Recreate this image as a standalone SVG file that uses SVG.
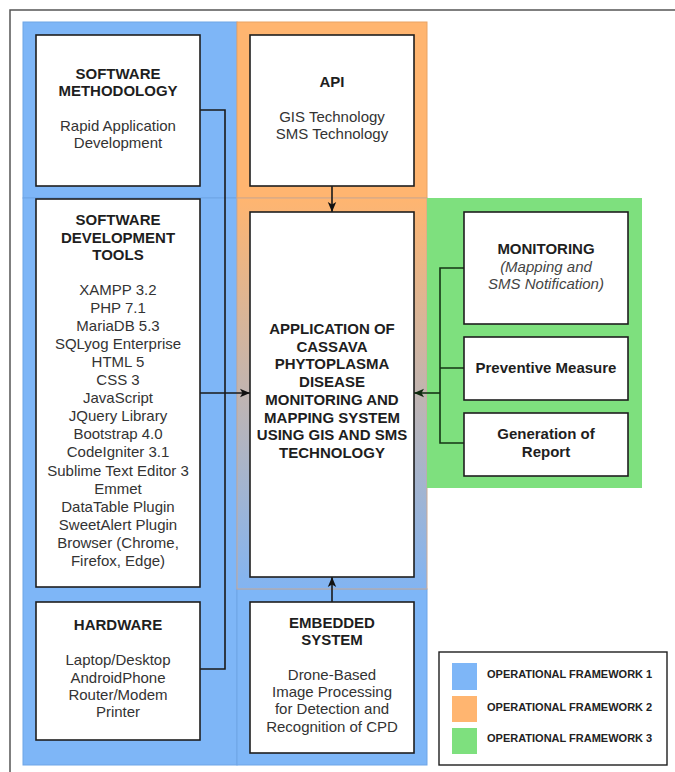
<svg xmlns="http://www.w3.org/2000/svg" width="675" height="772" viewBox="0 0 675 772">
<defs>
<linearGradient id="g2" x1="0" y1="0" x2="0" y2="1">
<stop offset="0" stop-color="#FFB570"/>
<stop offset="1" stop-color="#82B4F2"/>
</linearGradient>
<marker id="ah" markerUnits="userSpaceOnUse" markerWidth="10" markerHeight="10" viewBox="0 0 10 10" refX="10" refY="5" orient="auto">
<path d="M0,0.8 L10,5 L0,9.2 L2.5,5 Z" fill="#111"/>
</marker>
<marker id="ahg" markerUnits="userSpaceOnUse" markerWidth="10" markerHeight="10" viewBox="0 0 10 10" refX="10" refY="5" orient="auto">
<path d="M0,0.8 L10,5 L0,9.2 L2.5,5 Z" fill="#0f2a0f"/>
</marker>
</defs>
<style>
.box{fill:#fff;stroke:#1e1e1e;stroke-width:1.6}
.t{font-family:"Liberation Sans",Arial,sans-serif;font-size:15px;fill:#333;text-anchor:middle}
.b{font-weight:bold;fill:#1e1e1e}
.i{font-style:italic;fill:#444}
.ln{fill:none;stroke:#1a1a1a;stroke-width:1.6}
.lg{fill:none;stroke:#153515;stroke-width:1.6}
.leg{font-family:"Liberation Sans",Arial,sans-serif;font-size:11px;font-weight:bold;fill:#222}
</style>
<rect x="0" y="0" width="675" height="772" fill="#fff"/>
<rect x="10" y="10" width="700" height="800" fill="none" stroke="#555" stroke-width="1.5"/>
<g id="regions">
<rect x="23" y="22" width="214" height="176" fill="#7EB6F7" stroke="#6FA5E6" stroke-width="1"/>
<rect x="23" y="198" width="214" height="567" fill="#7EB6F7" stroke="#6FA5E6" stroke-width="1"/>
<rect x="237" y="589" width="190" height="176" fill="#7EB6F7" stroke="#6FA5E6" stroke-width="1"/>
<rect x="237" y="22" width="190" height="176" fill="#FFB570" stroke="#E9A364" stroke-width="1"/>
<rect x="237" y="198" width="190" height="391" fill="url(#g2)" stroke="#C9A995" stroke-width="1"/>
<rect x="427" y="198" width="215" height="290" fill="#7EE07E"/>
</g>
<g id="connectors">
<path class="ln" d="M200,110 H225 V669 H200"/>
<path class="ln" d="M200,393 H250" marker-end="url(#ah)"/>
<path class="ln" d="M332,186 V212" marker-end="url(#ah)"/>
<path class="ln" d="M332,602 V577" marker-end="url(#ah)"/>
<path class="lg" d="M464,268 H440 V443 H464 M440,368 H464"/>
<path class="lg" d="M440,393 H414" marker-end="url(#ahg)"/>
</g>
<g id="software-methodology">
<rect class="box" x="36" y="35" width="164" height="151"/>
<text class="t b" x="118" y="79">SOFTWARE</text>
<text class="t b" x="118" y="96">METHODOLOGY</text>
<text class="t" x="118" y="131">Rapid Application</text>
<text class="t" x="118" y="148">Development</text>
</g>
<g id="api">
<rect class="box" x="250" y="35" width="164" height="151"/>
<text class="t b" x="332" y="87">API</text>
<text class="t" x="332" y="122">GIS Technology</text>
<text class="t" x="332" y="139">SMS Technology</text>
</g>
<g id="software-development-tools">
<rect class="box" x="36" y="199" width="164" height="388"/>
<text class="t b" x="118" y="225">SOFTWARE</text>
<text class="t b" x="118" y="243">DEVELOPMENT</text>
<text class="t b" x="118" y="260">TOOLS</text>
<text class="t" x="118" y="295">XAMPP 3.2</text>
<text class="t" x="118" y="313">PHP 7.1</text>
<text class="t" x="118" y="331">MariaDB 5.3</text>
<text class="t" x="118" y="349">SQLyog Enterprise</text>
<text class="t" x="118" y="367">HTML 5</text>
<text class="t" x="118" y="385">CSS 3</text>
<text class="t" x="118" y="403">JavaScript</text>
<text class="t" x="118" y="421">JQuery Library</text>
<text class="t" x="118" y="439">Bootstrap 4.0</text>
<text class="t" x="118" y="457">CodeIgniter 3.1</text>
<text class="t" x="118" y="476">Sublime Text Editor 3</text>
<text class="t" x="118" y="494">Emmet</text>
<text class="t" x="118" y="512">DataTable Plugin</text>
<text class="t" x="118" y="530">SweetAlert Plugin</text>
<text class="t" x="118" y="548">Browser (Chrome,</text>
<text class="t" x="118" y="566">Firefox, Edge)</text>
</g>
<g id="application">
<rect class="box" x="250" y="212" width="164" height="365"/>
<text class="t b" x="332" y="334">APPLICATION OF</text>
<text class="t b" x="332" y="351.7">CASSAVA</text>
<text class="t b" x="332" y="369.4">PHYTOPLASMA</text>
<text class="t b" x="332" y="387.1">DISEASE</text>
<text class="t b" x="332" y="404.8">MONITORING AND</text>
<text class="t b" x="332" y="422.5">MAPPING SYSTEM</text>
<text class="t b" x="332" y="440.2">USING GIS AND SMS</text>
<text class="t b" x="332" y="457.9">TECHNOLOGY</text>
</g>
<g id="monitoring">
<rect class="box" x="464" y="212" width="164" height="112"/>
<text class="t b" x="546" y="254">MONITORING</text>
<text class="t i" x="546" y="272">(Mapping and</text>
<text class="t i" x="546" y="289">SMS Notification)</text>
</g>
<g id="preventive-measure">
<rect class="box" x="464" y="337" width="164" height="63"/>
<text class="t b" x="546" y="373">Preventive Measure</text>
</g>
<g id="generation-of-report">
<rect class="box" x="464" y="413" width="164" height="63"/>
<text class="t b" x="546" y="439">Generation of</text>
<text class="t b" x="546" y="457">Report</text>
</g>
<g id="hardware">
<rect class="box" x="36" y="602" width="164" height="138"/>
<text class="t b" x="118" y="630">HARDWARE</text>
<text class="t" x="118" y="665">Laptop/Desktop</text>
<text class="t" x="118" y="683">AndroidPhone</text>
<text class="t" x="118" y="700">Router/Modem</text>
<text class="t" x="118" y="717">Printer</text>
</g>
<g id="embedded-system">
<rect class="box" x="250" y="602" width="164" height="151"/>
<text class="t b" x="332" y="628">EMBEDDED</text>
<text class="t b" x="332" y="645">SYSTEM</text>
<text class="t" x="332" y="680">Drone-Based</text>
<text class="t" x="332" y="697">Image Processing</text>
<text class="t" x="332" y="714">for Detection and</text>
<text class="t" x="332" y="732">Recognition of CPD</text>
</g>
<g id="legend">
<rect x="439" y="652" width="228" height="113" fill="#fff" stroke="#1e1e1e" stroke-width="1.4"/>
<rect x="452" y="663" width="25" height="27" fill="#7EB6F7"/>
<rect x="452" y="696" width="25" height="26" fill="#FFB570"/>
<rect x="452" y="728" width="25" height="26" fill="#7EE07E"/>
<text class="leg" x="487" y="678">OPERATIONAL FRAMEWORK 1</text>
<text class="leg" x="487" y="711">OPERATIONAL FRAMEWORK 2</text>
<text class="leg" x="487" y="742">OPERATIONAL FRAMEWORK 3</text>
</g>
</svg>
